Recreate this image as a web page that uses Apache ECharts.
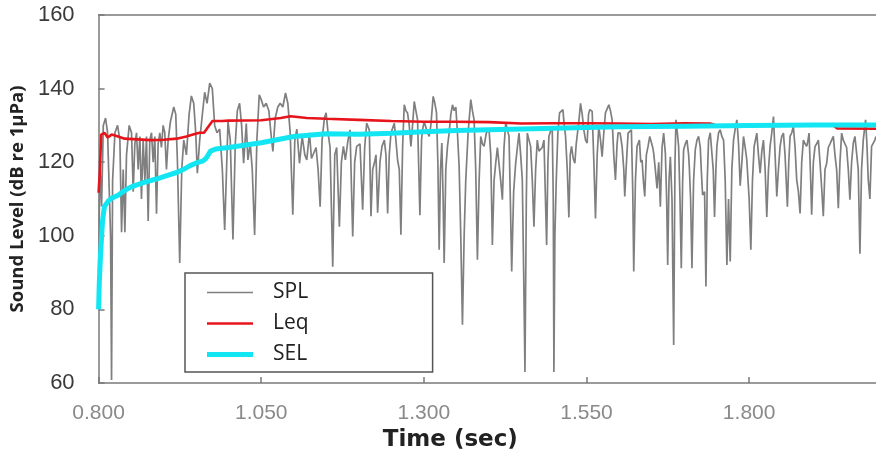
<!DOCTYPE html>
<html>
<head>
<meta charset="utf-8">
<script src="https://cdn.jsdelivr.net/npm/echarts@6/dist/echarts.min.js"></script>
<style>html,body{margin:0;padding:0;background:#fff}#c{width:876px;height:461px}</style>
</head>
<body>
<div id="c"></div>
<script>
// ---- data ----
const xTicks = [0.800, 1.050, 1.300, 1.550, 1.800];
const yTicks = [60, 80, 100, 120, 140, 160];
const seriesNames = ['SPL', 'Leq', 'SEL'];

const splTime = [
0.8000,0.8020,0.8046,0.8072,0.8107,0.8138,0.8164,0.8184,0.8199,0.8215,0.8251,0.8291,0.8327,0.8353,0.8378,0.8404,0.8429,0.8470,0.8506,0.8532,
0.8557,0.8583,0.8608,0.8634,0.8659,0.8685,0.8711,0.8736,0.8762,0.8787,0.8813,0.8839,0.8864,0.8890,0.8915,0.8941,0.8966,0.8992,0.9017,0.9043,
0.9069,0.9104,0.9155,0.9186,0.9212,0.9247,0.9278,0.9309,0.9350,0.9391,0.9426,0.9462,0.9493,0.9518,0.9554,0.9595,0.9631,0.9667,0.9708,0.9748,
0.9784,0.9820,0.9861,0.9902,0.9938,
0.9989,1.0024,1.0065,1.0101,1.0132,1.0167,1.0198,1.0229,1.0270,1.0295,1.0331,1.0362,1.0398,1.0433,1.0469,1.0500,1.0536,1.0576,1.0617,1.0648,
1.0679,1.0715,1.0755,1.0791,1.0832,1.0873,1.0909,1.0945,1.0985,1.1016,1.1047,1.1088,1.1129,1.1170,1.1200,1.1241,1.1272,1.1302,1.1343,1.1374,
1.1405,1.1435,1.1471,1.1497,1.1527,1.1558,1.1599,1.1630,1.1660,1.1701,1.1732,1.1763,1.1793,1.1834,1.1865,1.1906,1.1936,1.1967,
1.2018,1.2059,1.2090,1.2121,1.2161,1.2187,1.2213,1.2238,1.2264,1.2289,1.2325,1.2356,1.2392,1.2417,1.2443,1.2468,1.2494,1.2519,1.2545,1.2570,
1.2596,1.2622,1.2647,1.2673,1.2698,1.2724,1.2749,1.2775,1.2801,1.2826,1.2852,1.2877,1.2903,1.2939,1.2964,1.2979,1.3005,1.3031,1.3056,1.3082,
1.3107,1.3143,1.3169,1.3194,1.3215,1.3235,1.3256,1.3276,1.3296,1.3312,1.3337,1.3363,1.3389,1.3414,1.3440,1.3465,1.3491,1.3516,1.3542,1.3567,
1.3593,1.3619,1.3644,1.3680,1.3721,1.3746,1.3772,1.3797,1.3823,1.3849,1.3874,1.3900,1.3925,1.3961,
1.4002,1.4028,1.4053,1.4079,1.4104,1.4130,1.4155,1.4181,1.4207,1.4232,1.4258,1.4283,1.4309,1.4329,1.4350,1.4380,1.4411,1.4437,1.4462,1.4488,
1.4513,1.4534,1.4554,1.4575,1.4590,1.4616,1.4641,1.4667,1.4692,1.4718,1.4743,1.4769,1.4795,1.4820,1.4846,1.4866,1.4887,1.4907,1.4922,1.4948,
1.4973,1.4989,1.4999,1.5014,1.5035,1.5060,1.5086,1.5112,1.5137,1.5158,1.5178,1.5204,1.5229,1.5250,1.5270,1.5296,1.5321,1.5342,1.5357,1.5382,
1.5408,1.5434,1.5459,1.5485,1.5510,1.5531,1.5551,1.5572,1.5587,1.5613,1.5638,1.5664,1.5689,1.5715,1.5740,1.5766,1.5791,1.5817,1.5843,1.5868,
1.5894,1.5919,1.5945,1.5970,
1.5986,1.6017,1.6047,1.6073,1.6088,1.6114,1.6139,1.6165,1.6190,1.6211,1.6226,1.6252,1.6277,1.6313,1.6334,1.6354,1.6374,1.6395,1.6420,1.6446,
1.6472,1.6497,1.6518,1.6533,1.6558,1.6584,1.6610,1.6635,1.6661,1.6686,1.6712,1.6732,1.6748,1.6768,1.6789,1.6814,1.6840,1.6860,1.6875,1.6896,
1.6916,1.6937,1.6957,1.6978,1.6993,1.7019,1.7044,1.7070,1.7080,1.7100,1.7121,1.7146,1.7172,1.7198,1.7223,1.7249,1.7264,1.7284,1.7315,1.7336,
1.7356,1.7376,1.7402,1.7428,1.7448,1.7468,1.7489,1.7504,1.7530,1.7555,1.7581,1.7607,1.7632,1.7658,1.7683,1.7709,1.7734,1.7760,1.7785,1.7811,
1.7837,1.7862,1.7888,1.7913,1.7939,1.7964,
1.8000,1.8026,1.8051,1.8077,1.8118,1.8143,1.8169,1.8195,1.8220,1.8246,1.8271,1.8297,1.8322,1.8348,1.8374,1.8399,1.8425,1.8450,1.8476,1.8501,
1.8527,1.8552,1.8588,1.8609,1.8629,1.8655,1.8680,1.8706,1.8731,1.8757,1.8783,1.8808,1.8834,1.8859,1.8885,1.8905,1.8921,1.8941,1.8961,1.8987,
1.9013,1.9038,1.9064,1.9089,1.9115,1.9140,1.9166,1.9192,1.9217,1.9243,1.9268,1.9294,1.9319,1.9345,1.9371,1.9396,1.9422,1.9447,1.9473,1.9498,
1.9524,1.9549,1.9575,1.9601,1.9626,1.9652,1.9677,1.9703,1.9728,1.9754,1.9790,1.9810,1.9831,1.9856,1.9882,1.9907,1.9933,1.9948
];
const splLevel = [
90,120,108,130,132,128,112,100,60.8,115,128,130,126,101,118,101,122,130,128,112,
125,128,118,127,110,126,115,127,104,126,128,120,127,106,125,128,124,130,128,118,
126,131,135,133,120,92.6,118,126,122,133,138,136,128,117,126,133,139,136,141.5,140,
130,128,129,118,101.6,
131,126,99,125,134,136,130,119.7,130.5,120.6,125,118,100.2,126,138.3,137,135,136,134,128,
122.9,132,135,136,135,138.8,136,128,105.7,126,129,119.7,127,122,120.6,128,121,120.6,124,118,
107.9,126,132,133.4,128,124,91.6,122,124,102.5,120,124.3,120.6,126,128.8,99.8,120,124.3,
125,107.1,124,130.6,128.8,105.3,118,119.7,122,106.3,120,124.3,126,122,106.1,122,127.9,128,130.6,126,
120.6,118,100.3,124,135.6,134,133.4,130,124.3,130,136.5,134,131.5,105.6,126,128.8,131,131.5,128,127,
130,137.9,136,133.4,120,96.2,118,125.2,110,92.6,118,124.3,128,133,135.6,134,135,128,118.8,100,
75.8,100,115.2,128,137,134,131.5,118,93.5,115,127,125,124.3,128,
128.8,122,97.5,115,119.7,124,124.3,115,109.8,124,130.7,129,127,110,90.3,112,119.7,124,127.9,122,
115.2,90,63,110,127.9,126,124.3,115,102.5,118,126,123,123.4,124,126,112,97.5,120,127,128.5,
129.7,110,63,100,115.2,128,133.4,133,134.3,130,127,118,105,122,124.3,121,119.7,125,125.2,131,
136,133,128.8,126,125.2,133,134.3,133.8,133.8,120,104.7,122,129.7,126,121.5,128,133.4,134.5,135.6,134,
131.5,122,115.2,125,
128,127.9,124.3,118,110.7,120,127.9,128,128.8,112,90.3,115,124.3,126,120,120.6,115,110.7,122,124.3,
127,127,124,122.4,118,112.9,120,107.9,124,127.9,122.4,110,92.1,115,121.5,110,70.3,120,131.5,128,
124.3,110,91.2,115,123.4,125,126,122,118.8,110,91.2,115,123.4,126,127,124,118,111.1,112,86.2,
115,126,128,127.9,118,105.1,118,124.3,128,128.8,127,126,115,92.1,110,93,118,126,129,131.5,
125,113.6,120,127,124,120.6,
110,96.2,115,124.3,127.9,122,117,123,126,118,105.1,118,124.3,128,132.4,122,110.7,118,124.3,127,
127.9,122,107.9,120,127,128,129.7,124,115.2,112,106.1,120,126,125,124.3,126,127.9,118,105.7,120,
124.3,125,126,120,113,105.3,118,119.7,124,125,126,127,122,118,107.5,120,127.9,126,126,124,
118,109.8,120,125.2,127,127,118,95.1,118,126,131.5,125,115.2,110,124.3,124,126,127
];

const leqTime  = [0.800,0.802,0.804,0.809,0.814,0.820,0.830,0.840,0.860,0.880,0.900,0.920,0.935,0.945,0.955,0.962,0.970,0.975,0.990,1.000,1.050,1.080,1.095,1.120,1.150,1.200,1.250,1.300,1.350,1.400,1.450,1.500,1.550,1.600,1.650,1.700,1.740,1.750,1.800,1.900,1.930,1.935,1.995];
const leqLevel = [111.7,118,127.5,128,126.7,127.5,127,126.4,126.2,126,126.1,126.4,127,127.5,128,128,130,131.2,131.2,131.3,131.4,132,132.5,132,131.8,131.5,131.2,131,131,130.9,130.5,130.6,130.6,130.5,130.4,130.6,130.5,130,130,130,129.9,129.2,129.1];

const selTime  = [0.800,0.801,0.803,0.806,0.809,0.815,0.820,0.830,0.840,0.850,0.870,0.890,0.900,0.920,0.930,0.940,0.950,0.960,0.965,0.972,0.980,1.000,1.050,1.100,1.150,1.200,1.250,1.300,1.350,1.400,1.500,1.600,1.700,1.800,1.900,1.995];
const selLevel = [80,87,95,104,108,109.5,110.2,111,112.3,113.3,114.5,115.5,116.1,117.2,118,119,119.8,120.3,121,123,123.6,124,125.3,127,127.7,127.6,127.9,128.3,128.6,128.8,129.2,129.6,129.8,130,130.1,130.1];

// ---- chart ----
const pairs = (t, v) => t.map((x, i) => [x, v[i]]);
// legend icon: horizontal stroke of given thickness inside a 46x20 box
const lineIcon = w => 'path://M0,0L0.01,0M0,' + (10 - w / 2) + 'L46,' + (10 - w / 2) + 'L46,' + (10 + w / 2) + 'L0,' + (10 + w / 2) + 'ZM0,20L0.01,20';
const splColor = '#7f7f7f', leqColor = '#e8141c', selColor = '#12e6f2';
const chart = echarts.init(document.getElementById('c'), null, {renderer: 'canvas'});
const axisGray = '#7a7a7a';
chart.setOption({
  animation: false,
  backgroundColor: '#ffffff',
  grid: {left: 97, right: 0, top: 15, bottom: 78, containLabel: false},
  legend: {
    orient: 'vertical',
    left: 185, top: 273,
    data: [
      {name: seriesNames[0], icon: lineIcon(1.6)},
      {name: seriesNames[1], icon: lineIcon(2.6)},
      {name: seriesNames[2], icon: lineIcon(5)}
    ],
    backgroundColor: '#ffffff',
    borderColor: '#555555',
    borderWidth: 1.5,
    borderRadius: 0,
    padding: [9, 124, 7, 22],
    itemWidth: 46, itemHeight: 20, itemGap: 10,
    textStyle: {fontFamily: 'Open Sans', fontSize: 21, color: '#222', padding: [0, 0, 0, 15]},
    z: 10
  },
  xAxis: [{
    type: 'value', min: 0.8, max: 1.995, interval: 0.25,
    position: 'bottom',
    axisLine: {show: true, lineStyle: {color: axisGray, width: 1.5}},
    axisTick: {show: true, inside: true, length: 6, lineStyle: {color: axisGray, width: 1.5}},
    axisLabel: {showMaxLabel: false, margin: 20, fontSize: 21, color: '#8a8a8a', fontFamily: 'Liberation Sans',
      formatter: v => xTicks.some(t => Math.abs(t - v) < 1e-6) ? v.toFixed(3) : ''},
    splitLine: {show: false},
    name: 'Time (sec)', nameLocation: 'middle', nameGap: 44,
    nameTextStyle: {fontFamily: 'DejaVu Sans', fontSize: 23, fontWeight: 'bold', color: '#222', padding: [0, 74, 0, 0]}
  }, {
    type: 'value', min: 0.8, max: 1.995, position: 'top',
    axisLine: {show: true, lineStyle: {color: axisGray, width: 1.5}},
    axisTick: {show: false}, axisLabel: {show: false}, splitLine: {show: false}
  }],
  yAxis: {
    type: 'value', min: yTicks[0], max: yTicks[yTicks.length - 1], interval: 20,
    axisLine: {show: true, lineStyle: {color: axisGray, width: 1.5}},
    axisTick: {show: true, inside: true, length: 6, lineStyle: {color: axisGray, width: 1.5}},
    axisLabel: {margin: 24, fontSize: 22, color: '#3a3a3a', fontFamily: 'Liberation Sans'},
    splitLine: {show: false},
    name: 'Sound Level (dB re 1μPa)', nameLocation: 'middle', nameGap: 64, nameRotate: 90,
    nameTextStyle: {fontFamily: 'Open Sans', fontSize: 18.5, fontWeight: 'bold', color: '#222'}
  },
  series: [
    {name: 'SPL', type: 'line', data: pairs(splTime, splLevel), symbol: 'none', showSymbol: false,
     lineStyle: {color: splColor, width: 1.7}, itemStyle: {color: splColor}, z: 2},
    {name: 'Leq', type: 'line', data: pairs(leqTime, leqLevel), symbol: 'none', showSymbol: false,
     lineStyle: {color: leqColor, width: 2.6}, itemStyle: {color: leqColor}, z: 3},
    {name: 'SEL', type: 'line', data: pairs(selTime, selLevel), symbol: 'none', showSymbol: false,
     lineStyle: {color: selColor, width: 5}, itemStyle: {color: selColor}, z: 4}
  ]
});
</script>
</body>
</html>
